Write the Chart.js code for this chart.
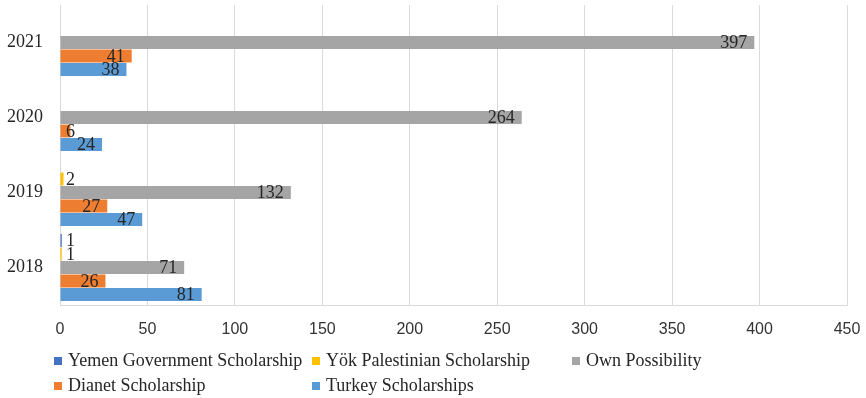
<!DOCTYPE html>
<html>
<head>
<meta charset="utf-8">
<script src="https://cdn.jsdelivr.net/npm/chart.js@4.4.0/dist/chart.umd.min.js"></script>
<style>
  html, body { margin: 0; padding: 0; background: #fff; }
  #wrap { position: relative; width: 866px; height: 398px; overflow: hidden; }
  #legend { position: absolute; left: 0; top: 0; font-family: "Liberation Serif", serif; font-size: 18px; color: #262626; }
  .item { position: absolute; white-space: nowrap; line-height: 20px; }
  .box { display: inline-block; width: 8px; height: 8px; margin-right: 6px; vertical-align: 1px; }
</style>
</head>
<body>
<div id="wrap">
  <canvas id="chart" width="866" height="398"></canvas>
  <div id="legend"></div>
</div>
<script>
// data, top group first
const years = ['2021', '2020', '2019', '2018'];
const yemenGov = [null, null, null, 1];
const yokPalestinian = [null, null, 2, 1];
const ownPossibility = [397, 264, 132, 71];
const dianet = [41, 6, 27, 26];
const turkey = [38, 24, 47, 81];
const xTicks = [0, 50, 100, 150, 200, 250, 300, 350, 400, 450];

const seriesNames = ['Yemen Government Scholarship', 'Yök Palestinian Scholarship', 'Own Possibility', 'Dianet Scholarship', 'Turkey Scholarships'];
const seriesColors = ['#4472C4', '#FFC000', '#A5A5A5', '#ED7D31', '#5B9BD5'];
const seriesData = [yemenGov, yokPalestinian, ownPossibility, dianet, turkey];

const grid = '#d9d9d9';
const serif = '"Liberation Serif", "Times New Roman", serif';
const sans = '"Liberation Sans", Arial, sans-serif';

// labels at the inside end of the bar, pushed out when the bar is too short
const barLabels = {
  id: 'barLabels',
  afterDatasetsDraw(chart) {
    const ctx = chart.ctx;
    ctx.save();
    ctx.font = '18px ' + serif;
    ctx.fillStyle = '#262626';
    ctx.textAlign = 'right';
    ctx.textBaseline = 'middle';
    const base = chart.scales.x.getPixelForValue(0);
    chart.data.datasets.forEach((ds, i) => {
      chart.getDatasetMeta(i).data.forEach((bar, j) => {
        const v = ds.data[j];
        if (v == null) return;
        const w = ctx.measureText(String(v)).width;
        const x = Math.max(bar.x - 7, base + 6 + w);
        ctx.fillText(String(v), x, bar.y + 1);
      });
    });
    ctx.restore();
  }
};

const chart = new Chart(document.getElementById('chart'), {
  type: 'bar',
  data: {
    labels: years,
    datasets: seriesNames.map((name, i) => ({
      label: name,
      data: seriesData[i],
      backgroundColor: seriesColors[i],
      borderWidth: 0,
      categoryPercentage: 0.9,
      barPercentage: 0.95
    }))
  },
  options: {
    indexAxis: 'y',
    responsive: false,
    animation: false,
    devicePixelRatio: 1,
    layout: { padding: { top: 5, right: 19, bottom: 53, left: 0 } },
    scales: {
      x: {
        min: 0,
        max: 450,
        afterFit: s => { s.height = 40; s.paddingLeft = 0; s.paddingRight = 0; },
        afterBuildTicks: s => { s.ticks = xTicks.map(v => ({ value: v })); },
        grid: { color: grid, drawTicks: false },
        border: { color: grid },
        ticks: { font: { family: sans, size: 16 }, color: '#333', padding: 15 }
      },
      y: {
        afterFit: s => { s.width = 60; s.paddingTop = 0; s.paddingBottom = 0; },
        grid: { display: false, drawTicks: false },
        border: { color: grid },
        ticks: { font: { family: serif, size: 18 }, color: '#262626', padding: 17 }
      }
    },
    plugins: {
      legend: { display: false },
      tooltip: { enabled: false }
    }
  },
  plugins: [barLabels]
});

// legend laid out in columns like the original
const legendPos = [[54, 350], [312, 350], [572, 350], [54, 375], [312, 375]];
const legend = document.getElementById('legend');
chart.data.datasets.forEach((ds, i) => {
  const el = document.createElement('div');
  el.className = 'item';
  el.style.left = legendPos[i][0] + 'px';
  el.style.top = legendPos[i][1] + 'px';
  el.innerHTML = '<span class="box" style="background:' + ds.backgroundColor + '"></span>' + ds.label;
  legend.appendChild(el);
});
</script>
</body>
</html>
